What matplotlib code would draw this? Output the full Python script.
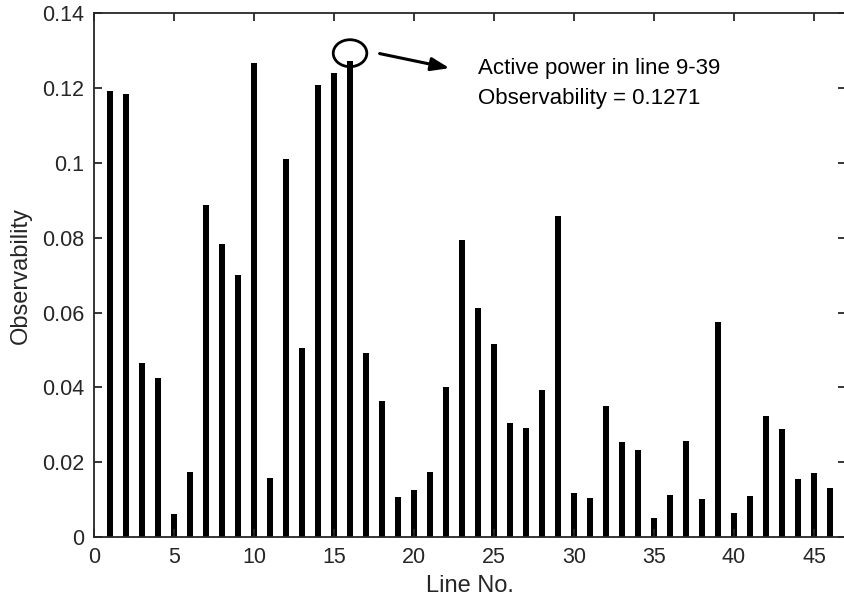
import numpy as np
import matplotlib
matplotlib.use("Agg")
import matplotlib.pyplot as plt
from matplotlib.patches import Ellipse

plt.rcParams['font.family'] = ['Liberation Sans', 'DejaVu Sans']

# observability of each line
line_no = np.arange(1, 47)
observability = [
    0.1192, 0.1185, 0.0464, 0.0425, 0.0062, 0.0174, 0.0886, 0.0782, 0.0701, 0.1266,
    0.0157, 0.1010, 0.0504, 0.1209, 0.1241, 0.1271, 0.0492, 0.0363, 0.0106, 0.0125,
    0.0174, 0.0400, 0.0793, 0.0613, 0.0516, 0.0304, 0.0291, 0.0392, 0.0858, 0.0119,
    0.0103, 0.0351, 0.0253, 0.0232, 0.0050, 0.0112, 0.0256, 0.0101, 0.0574, 0.0065,
    0.0109, 0.0324, 0.0289, 0.0154, 0.0172, 0.0131,
]
xticks = [0, 5, 10, 15, 20, 25, 30, 35, 40, 45]
yticks = [0, 0.02, 0.04, 0.06, 0.08, 0.1, 0.12, 0.14]
ytick_labels = ['0', '0.02', '0.04', '0.06', '0.08', '0.1', '0.12', '0.14']

axcol = '#262626'

fig = plt.figure(figsize=(8.44, 6.12), dpi=100)
ax = fig.add_axes([0.1114, 0.1225, 0.891, 0.856])

ax.bar(line_no, observability, width=0.42, color='black', edgecolor='none')

ax.set_xlim(0, 47)
ax.set_ylim(0, 0.14)
ax.set_xticks(xticks)
ax.set_yticks(yticks)
ax.set_yticklabels(ytick_labels)
ax.tick_params(direction='in', top=True, right=True, length=6, width=1.3,
               colors=axcol, labelsize=15.5, pad=7)
for sp in ax.spines.values():
    sp.set_color(axcol)
    sp.set_linewidth(1.3)

ax.set_xlabel('Line No.', fontsize=17, color=axcol, labelpad=5)
ax.set_ylabel('Observability', fontsize=17, color=axcol, labelpad=7)

# mark the largest one
imax = int(np.argmax(observability))
ax.add_patch(Ellipse((line_no[imax], 0.1293), 2.1, 0.0072, fill=False,
                     edgecolor='black', linewidth=2.0, clip_on=False))
ax.annotate('', xy=(22.22, 0.1253), xytext=(17.85, 0.1292),
            arrowprops=dict(arrowstyle='-|>,head_length=1.1,head_width=0.4',
                            color='black', lw=2.2, shrinkA=0, shrinkB=0))
ax.text(24.0, 0.1237, 'Active power in line 9-39', fontsize=16, color='black',
        va='baseline')
ax.text(24.0, 0.1157, 'Observability = %.4f' % observability[imax], fontsize=16,
        color='black', va='baseline')

fig.savefig('out.png', dpi=100)
